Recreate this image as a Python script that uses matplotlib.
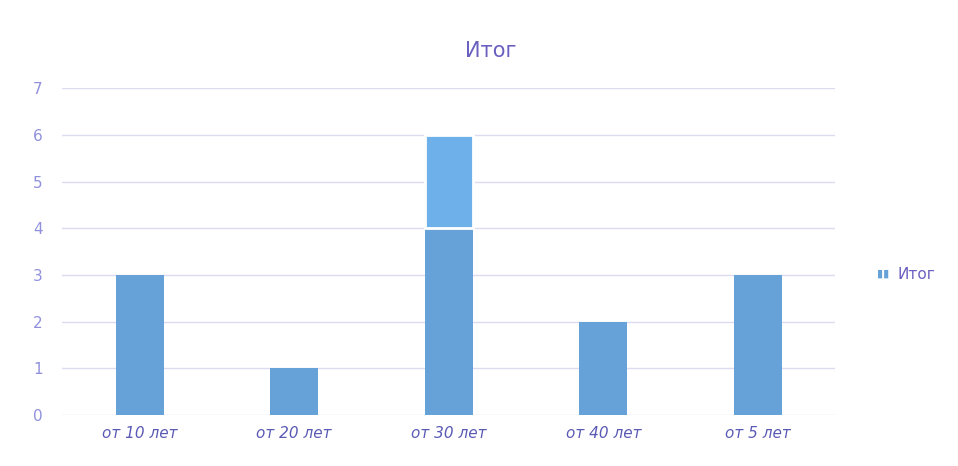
import matplotlib.pyplot as plt
import numpy as np

categories = ['от 10 лет', 'от 20 лет', 'от 30 лет', 'от 40 лет', 'от 5 лет']
base_values = [3, 1, 4, 2, 3]
top_values = [0, 0, 2, 0, 0]
yticks = [0, 1, 2, 3, 4, 5, 6, 7]

fig = plt.figure(figsize=(9.58, 4.66), dpi=100)
ax = fig.add_axes([0.065, 0.109, 0.807, 0.702])

x = np.arange(len(categories))
ax.bar(x, base_values, width=0.31, color='#66a2d8', zorder=3, label='Итог')
# only the stacked parts that exist, so the white edge does not mark other bars
idx = [i for i, v in enumerate(top_values) if v > 0]
ax.bar(x[idx], [top_values[i] for i in idx], width=0.31,
       bottom=[base_values[i] for i in idx], color='#6eb1ea',
       edgecolor='white', linewidth=2, zorder=3)

ax.set_xlim(-0.5, 4.5)
ax.set_ylim(0, 7)
ax.set_yticks(yticks)
ax.set_xticks(x)
ax.set_xticklabels(categories, fontstyle='italic', color='#5a5ab4', fontsize=11)
ax.tick_params(axis='y', colors='#9090dc', labelsize=11, length=0, pad=14)
ax.tick_params(axis='x', length=0, pad=8)
ax.grid(axis='y', color='#dcdcf0', linewidth=1, zorder=0)
for s in ax.spines.values():
    s.set_visible(False)

fig.text(0.512, 0.89, 'Итог', ha='center', va='center', fontsize=15, color='#6a60c0')
fig.text(0.915, 0.412, '▮▮', ha='left', va='center', fontsize=8, color='#66a2d8')
fig.text(0.937, 0.412, 'Итог', ha='left', va='center', fontsize=11, color='#6a60c0')

fig.savefig('out.png', dpi=100)
